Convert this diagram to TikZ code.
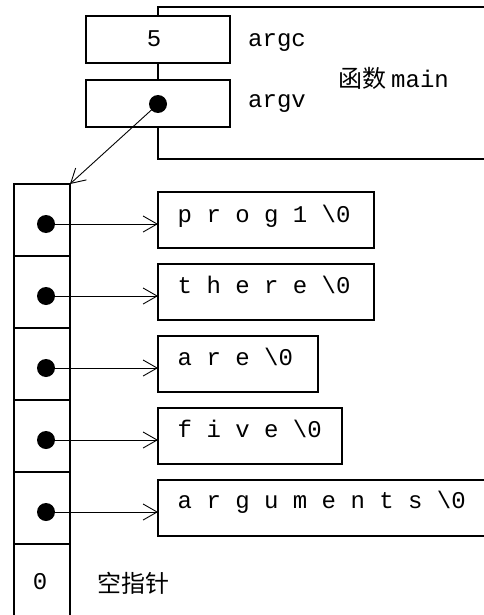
\documentclass[tikz,border=0pt]{standalone}
\usepackage{fontspec}
\setmonofont{Liberation Mono}
\newfontfamily\cjk{Noto Sans CJK SC}
\usetikzlibrary{arrows.meta}
\begin{document}
\begin{tikzpicture}[x=1pt,y=-1pt,
  box/.style={draw,line width=1.6pt,fill=white,inner sep=0pt,outer sep=0pt},
  txt/.style={font=\ttfamily\fontsize{24}{28}\selectfont,inner sep=0pt,anchor=base west},
  cjktxt/.style={font=\cjk\fontsize{24}{28}\selectfont,inner sep=0pt,anchor=base west},
  ptr/.style={line width=0.9pt,-{Straight Barb[length=14pt,width=16pt]}},
  dotnode/.style={circle,fill=black,minimum size=18pt,inner sep=0pt}]
\useasboundingbox (0,0) rectangle (483,615);
% function frame (open to the right)
\draw[line width=1.6pt] (495,7) -- (158,7) -- (158,159) -- (495,159);
% argc / argv
\node[box,minimum width=144pt,minimum height=47pt] (argc) at (158,39.5) {};
\node[box,minimum width=144pt,minimum height=47pt] (argv) at (158,103.5) {};
\node[txt,anchor=base] (argcval) at (154,46.7) {5};
\node[dotnode] (argvdot) at (158,104) {};
\node[txt] (argclab) at (248,46.5) {argc};
\node[txt] (argvlab) at (248,108) {argv};
\node[cjktxt] (mainlab) at (338,88) {函数\hspace{5pt}{\ttfamily main}};
% pointer array
\foreach \i in {1,...,6}
  \node[box,minimum width=56pt,minimum height=72pt] (c\i) at (42,{148+72*\i}) {};
\foreach \i in {1,...,5}
  \node[dotnode] (d\i) at (46,{152+72*\i}) {};
% strings
\node[box,anchor=west,minimum width=216pt,minimum height=56pt] (s1) at (158,220) {};
\node[box,anchor=west,minimum width=216pt,minimum height=56pt] (s2) at (158,292) {};
\node[box,anchor=west,minimum width=160pt,minimum height=56pt] (s3) at (158,364) {};
\node[box,anchor=west,minimum width=184pt,minimum height=56pt] (s4) at (158,436) {};
\node[box,anchor=west,minimum width=350pt,minimum height=56pt] (s5) at (158,508) {};
\node[txt] (t1) at (177.5,222) {p r o g 1 \textbackslash0};
\node[txt] (t2) at (177.5,293) {t h e r e \textbackslash0};
\node[txt] (t3) at (177.5,365) {a r e \textbackslash0};
\node[txt] (t4) at (177.5,437.3) {f i v e \textbackslash0};
\node[txt] (t5) at (177.5,508.3) {a r g u m e n t s \textbackslash0};
% connectors
\draw[ptr] (argvdot.center) -- (c1.north east);
\foreach \i in {1,...,5}
  \draw[ptr] (d\i.center) -- (d\i.center -| s\i.west);
% null pointer
\node[txt,anchor=base] (nullval) at (40,589) {0};
\node[cjktxt] (nulllab) at (97,592) {空指针};
\end{tikzpicture}
\end{document}
